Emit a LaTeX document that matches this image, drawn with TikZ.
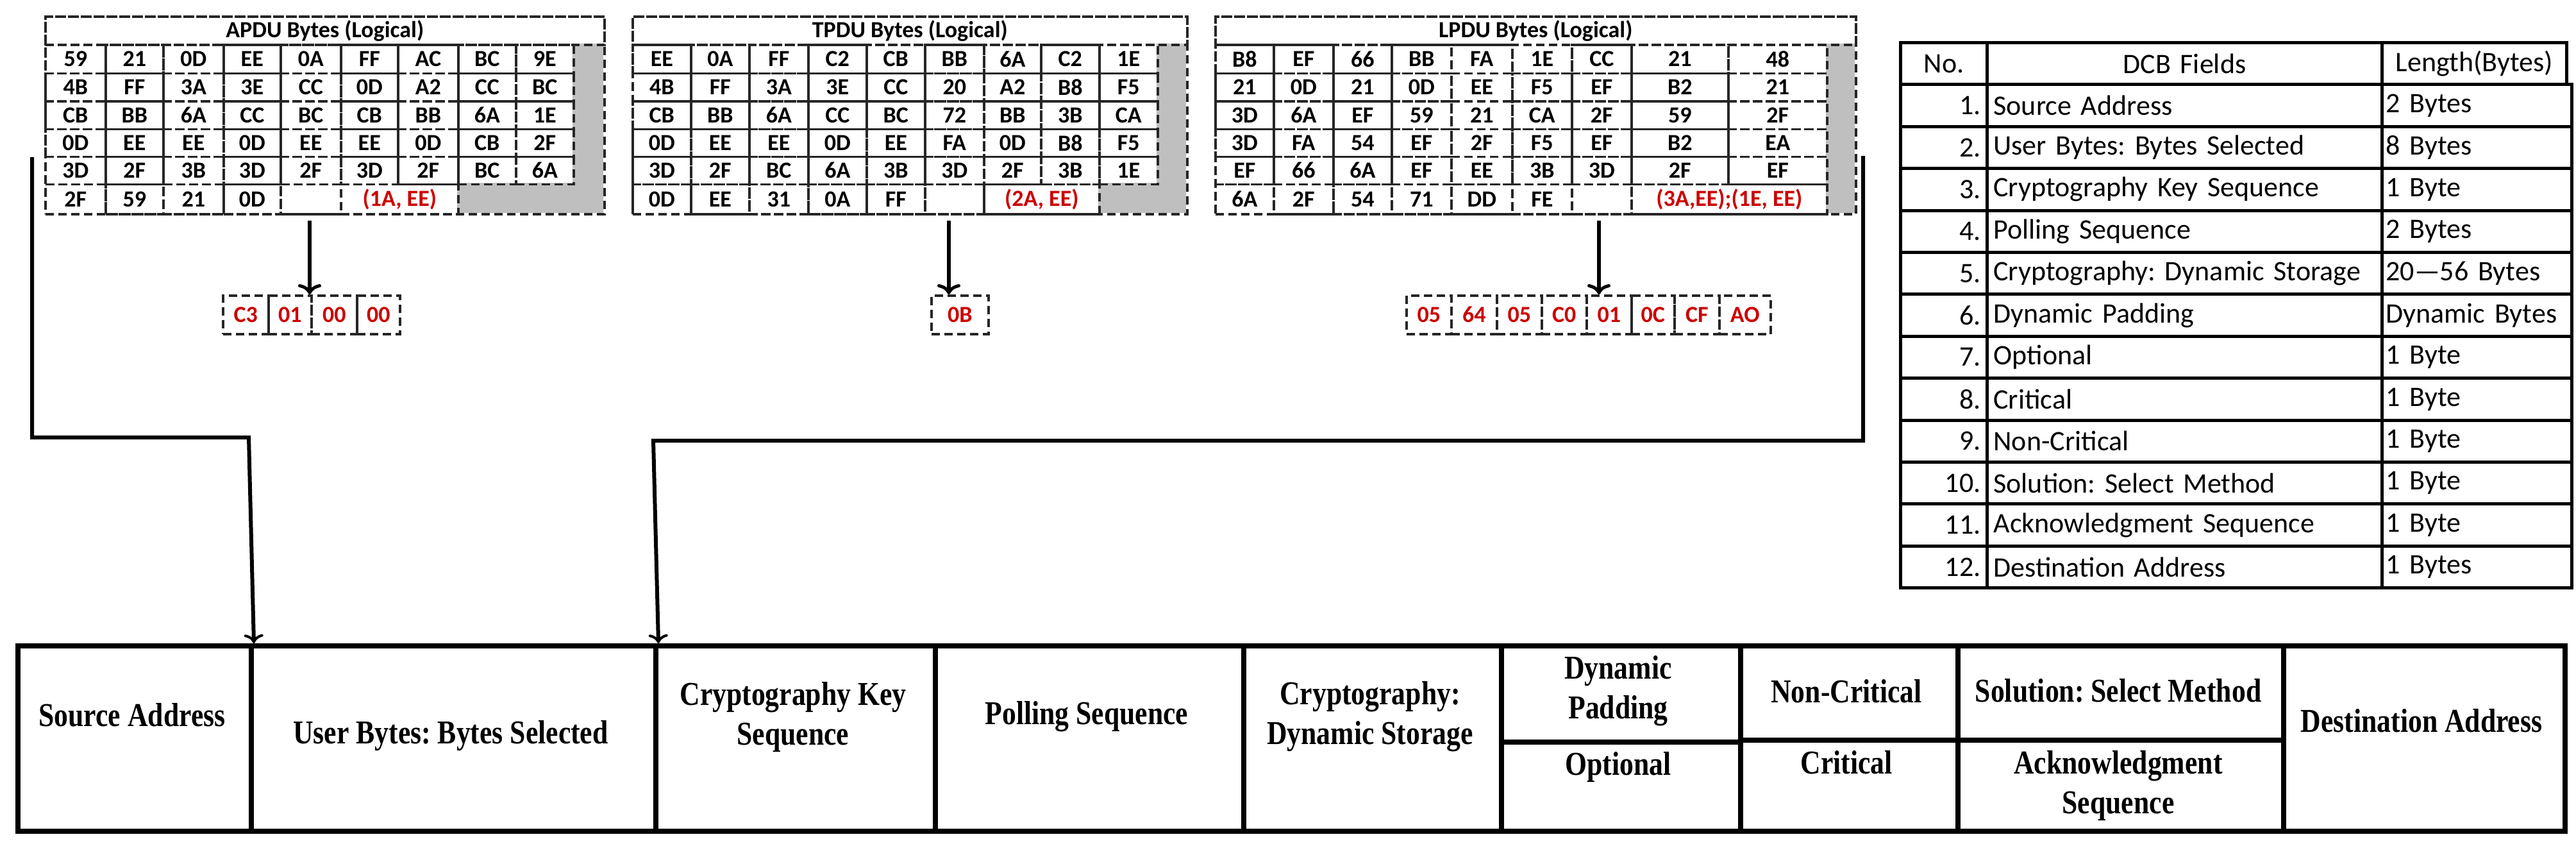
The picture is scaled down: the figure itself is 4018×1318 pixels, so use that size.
\documentclass[tikz,border=0pt]{standalone}
\usepackage{fontspec}
\setmainfont{Carlito}
\newfontfamily\fieldf{Liberation Serif}[FakeStretch=0.84]
\usetikzlibrary{arrows.meta}
\frenchspacing
\newcommand\R[1]{\textcolor{red!80!black}{#1}}
\newcommand\hexf{\fontsize{36}{40}\selectfont\bfseries}
\newcommand\hexrow[5]{%
 \foreach \t [count=\i] in {#5}{%
   \pgfmathsetmacro\xa{{#2}[\i-1]}%
   \pgfmathsetmacro\xb{{#2}[\i]}%
   \pgfmathsetmacro\w{\xb-\xa}%
   \node[cell, minimum width=\w pt, minimum height=#4pt, anchor=north west] (#1-\i) at (\xa,#3) {\t};
 }}
\tikzset{
  dsh/.style={draw=black!85, line width=3.6pt, dash pattern=on 13pt off 7pt},
  cell/.style={dsh, inner sep=0pt, font=\hexf},
  rcell/.style={dsh, inner sep=0pt, font=\fontsize{36}{40}\selectfont\bfseries\color{red!80!black}, minimum height=60pt, anchor=north west},
  title/.style={dsh, inner sep=0pt, minimum height=44pt, anchor=north west, font=\hexf},
  arr/.style={line width=6pt, -{To[length=16pt,width=36pt,line width=5pt]}},
  conn/.style={line width=6pt, -{To[length=14pt,width=30pt,line width=4pt]}},
  tcell/.style={draw, line width=5pt, minimum height=65.4pt, inner ysep=0pt, inner xsep=10pt, anchor=north west, font=\fontsize{44}{48}\selectfont},
  fbox/.style={draw, line width=8pt, anchor=north west, inner sep=0pt},
  ftxt/.style={font=\fieldf\bfseries\fontsize{52}{62}\selectfont, align=center, inner sep=0pt}
}
\begin{document}
\begin{tikzpicture}[x=1pt,y=-1pt]
\useasboundingbox (0,0) rectangle (4018,1318);
% ---------- APDU ----------
\fill[black!25] (893,68) rectangle (941,285);
\fill[black!25] (713,285) rectangle (941,332);
\node[title, minimum width=872pt] (apdut) at (69,24) {APDU Bytes (Logical)};
\hexrow{a1}{69,163,253,347,436,530,619,713,803,893}{68}{44.5}{59,21,0D,EE,0A,FF,AC,BC,9E}
\hexrow{a2}{69,163,253,347,436,530,619,713,803,893}{112.5}{43.5}{4B,FF,3A,3E,CC,0D,A2,CC,BC}
\hexrow{a3}{69,163,253,347,436,530,619,713,803,893}{156}{43.5}{CB,BB,6A,CC,BC,CB,BB,6A,1E}
\hexrow{a4}{69,163,253,347,436,530,619,713,803,893}{199.5}{43}{0D,EE,EE,0D,EE,EE,0D,CB,2F}
\hexrow{a5}{69,163,253,347,436,530,619,713,803,893}{242.5}{43}{3D,2F,3B,3D,2F,3D,2F,BC,6A}
\hexrow{a6}{69,163,253,347,436,530,713}{285.5}{46.5}{2F,59,21,0D,{},{\R{(1A, EE)}}}
\node[dsh, minimum width=872pt, minimum height=308pt, anchor=north west, inner sep=0pt] (apdu) at (69,24) {};
% ---------- TPDU ----------
\fill[black!25] (1804,68) rectangle (1850,332);
\fill[black!25] (1713,285) rectangle (1850,332);
\node[title, minimum width=865pt] (tpdut) at (985,24) {TPDU Bytes (Logical)};
\hexrow{b1}{985,1076,1167,1259,1350,1441,1533,1622,1713,1804}{68}{44.5}{EE,0A,FF,C2,CB,BB,6A,C2,1E}
\hexrow{b2}{985,1076,1167,1259,1350,1441,1533,1622,1713,1804}{112.5}{43.5}{4B,FF,3A,3E,CC,20,A2,B8,F5}
\hexrow{b3}{985,1076,1167,1259,1350,1441,1533,1622,1713,1804}{156}{43.5}{CB,BB,6A,CC,BC,72,BB,3B,CA}
\hexrow{b4}{985,1076,1167,1259,1350,1441,1533,1622,1713,1804}{199.5}{43}{0D,EE,EE,0D,EE,FA,0D,B8,F5}
\hexrow{b5}{985,1076,1167,1259,1350,1441,1533,1622,1713,1804}{242.5}{43}{3D,2F,BC,6A,3B,3D,2F,3B,1E}
\hexrow{b6}{985,1076,1167,1259,1350,1441,1533,1713}{285.5}{46.5}{0D,EE,31,0A,FF,{},{\R{(2A, EE)}}}
\node[dsh, minimum width=865pt, minimum height=308pt, anchor=north west, inner sep=0pt] (tpdu) at (985,24) {};
% ---------- LPDU ----------
\fill[black!25] (2848,68) rectangle (2893,332);
\node[title, minimum width=999pt] (lpdut) at (1894,24) {LPDU Bytes (Logical)};
\hexrow{c1}{1894,1985,2078,2169,2262,2357,2450,2543,2694,2848}{68}{44.5}{B8,EF,66,BB,FA,1E,CC,21,48}
\hexrow{c2}{1894,1985,2078,2169,2262,2357,2450,2543,2694,2848}{112.5}{43.5}{21,0D,21,0D,EE,F5,EF,B2,21}
\hexrow{c3}{1894,1985,2078,2169,2262,2357,2450,2543,2694,2848}{156}{43.5}{3D,6A,EF,59,21,CA,2F,59,2F}
\hexrow{c4}{1894,1985,2078,2169,2262,2357,2450,2543,2694,2848}{199.5}{43}{3D,FA,54,EF,2F,F5,EF,B2,EA}
\hexrow{c5}{1894,1985,2078,2169,2262,2357,2450,2543,2694,2848}{242.5}{43}{EF,66,6A,EF,EE,3B,3D,2F,EF}
\hexrow{c6}{1894,1985,2078,2169,2262,2357,2450,2543,2848}{285.5}{46.5}{6A,2F,54,71,DD,FE,{},{\R{(3A,EE);(1E, EE)}}}
\node[dsh, minimum width=999pt, minimum height=308pt, anchor=north west, inner sep=0pt] (lpdu) at (1894,24) {};
% ---------- results ----------
\node[rcell, minimum width=71pt] (ra1) at (346,459) {C3};
\node[rcell, minimum width=67pt] (ra2) at (417,459) {01};
\node[rcell, minimum width=71pt] (ra3) at (484,459) {00};
\node[rcell, minimum width=67pt] (ra4) at (555,459) {00};
\node[rcell, minimum width=89pt] (rb1) at (1451,459) {0B};
\foreach \xa/\xb/\t [count=\i] in {2192/2262/05,2262/2333/64,2333/2403/05,2403/2473/C0,2473/2543/01,2543/2610/0C,2610/2680/CF,2680/2760/AO}{
  \pgfmathsetmacro\w{\xb-\xa}
  \node[rcell, minimum width=\w pt] (rc\i) at (\xa,459) {\t};
}
\coordinate (aa) at (483,344);
\coordinate (ab) at (1480,344);
\coordinate (ac) at (2494,344);
\draw[arr] (aa) -- (aa |- ra2.north);
\draw[arr] (ab) -- (ab |- rb1.north);
\draw[arr] (ac) -- (ac |- rc5.north);
% ---------- right table ----------
\node[tcell, text width=115pt, align=center] (h1) at (2962,64) {No.};
\node[tcell, text width=596pt, align=center] (h2) at (3097,64) {DCB Fields};
\node[tcell, text width=276pt, align=center, inner xsep=6pt] (h3) at (3713,64) {Length(Bytes)};
\foreach \n/\f/\l [count=\i] in {1./Source Address/2 Bytes,2./User Bytes: Bytes Selected/8 Bytes,3./Cryptography Key Sequence/1 Byte,4./Polling Sequence/2 Bytes,5./Cryptography: Dynamic Storage/20—56 Bytes,6./Dynamic Padding/Dynamic Bytes,7./Optional/1 Byte,8./Critical/1 Byte,9./Non-Critical/1 Byte,10./Solution: Select Method/1 Byte,11./Acknowledgment Sequence/1 Byte,12./Destination Address/1 Bytes}{
  \pgfmathsetmacro\yy{64+65.4*\i}
  \node[tcell, text width=115pt, align=right] (n\i) at (2962,\yy) {\n};
  \node[tcell, text width=596pt, align=left] (f\i) at (3097,\yy) {\f};
  \node[tcell, text width=284pt, align=left, inner xsep=6pt] (l\i) at (3713,\yy) {\l};
}
% ---------- bottom fields ----------
\node[fbox, minimum width=364pt, minimum height=289pt] (src) at (24,1003) {};
\node[fbox, minimum width=631pt, minimum height=289pt] (ub) at (388,1003) {};
\node[fbox, minimum width=436pt, minimum height=289pt] (cks) at (1019,1003) {};
\node[fbox, minimum width=481pt, minimum height=289pt] (poll) at (1455,1003) {};
\node[fbox, minimum width=402pt, minimum height=289pt] (cds) at (1936,1003) {};
\node[fbox, minimum width=373pt, minimum height=150pt] (dp) at (2338,1003) {};
\node[fbox, minimum width=373pt, minimum height=139pt] (opt) at (2338,1153) {};
\node[fbox, minimum width=339pt, minimum height=147pt] (nc) at (2711,1003) {};
\node[fbox, minimum width=339pt, minimum height=142pt] (crit) at (2711,1150) {};
\node[fbox, minimum width=508pt, minimum height=147pt] (sol) at (3050,1003) {};
\node[fbox, minimum width=508pt, minimum height=142pt] (ack) at (3050,1150) {};
\node[fbox, minimum width=439pt, minimum height=289pt] (dst) at (3558,1003) {};
\node[ftxt] (srct) at (206,1115) {Source Address};
\node[ftxt] (ubt) at (703,1147) {User Bytes: Bytes Selected};
\node[ftxt] (ckst) at (1237,1118) {Cryptography Key\\Sequence};
\node[ftxt] (pollt) at (1695,1117) {Polling Sequence};
\node[ftxt] (cdst) at (2137,1117) {Cryptography:\\Dynamic Storage};
\node[ftxt] (dpt) at (2524,1077) {Dynamic\\Padding};
\node[ftxt] (optt) at (2524,1196) {Optional};
\node[ftxt] (nct) at (2880,1078) {Non-Critical};
\node[ftxt] (critt) at (2880,1189) {Critical};
\node[ftxt] (solt) at (3304,1077) {Solution: Select Method};
\node[ftxt] (ackt) at (3304,1225) {Acknowledgment\\Sequence};
\node[ftxt] (dstt) at (3777,1124) {Destination Address};
% ---------- connectors ----------
\coordinate (s1) at (50,245);
\coordinate (k1) at (388,682);
\coordinate (s2) at (2906,243);
\coordinate (k2) at (1019,687);
\draw[conn] (s1) |- (k1) -- (src.north east);
\draw[conn] (s2) |- (k2) -- (ub.north east);
\end{tikzpicture}
\end{document}
